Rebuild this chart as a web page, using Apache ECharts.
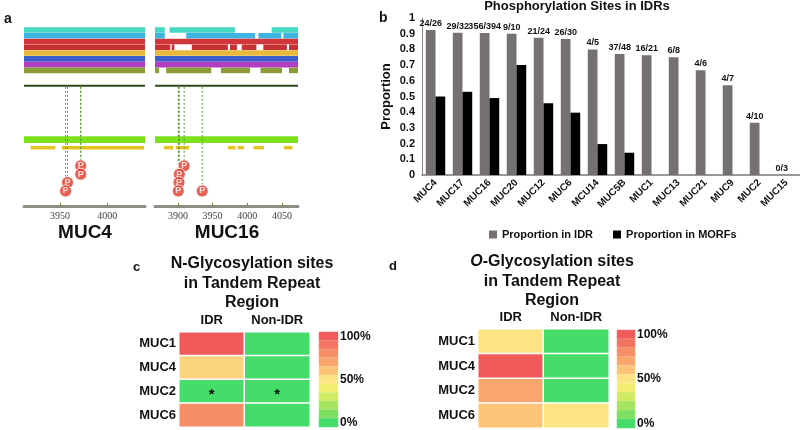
<!DOCTYPE html>
<html>
<head>
<meta charset="utf-8">
<script src="https://cdn.jsdelivr.net/npm/echarts@6/dist/echarts.min.js"></script>
<style>
html,body{margin:0;padding:0;background:#fff;}
#chart{width:800px;height:430px;}
</style>
</head>
<body>
<div id="chart"></div>
<script>
// ---- panel a : protein tracks ----
const trackColors = ['#46d8c5','#3db4e2','#d1363b','#c73034','#e8b83c','#3b5ec8','#b23dc3','#8c9c3b'];
const muc4Range = [3912, 4040];
const muc16Range = [3867, 4073];
const muc4Tracks = [
  [[3912,4040]],[[3912,4040]],[[3912,4040]],[[3912,4040]],
  [[3912,4040]],[[3912,4040]],[[3912,4040]],[[3912,4040]]
];
const muc16Tracks = [
  [[3867,3881],[3888,3982],[4035,4073]],
  [[3867,3881],[3912,4011],[4016,4049],[4052,4073]],
  [[3867,4073]],
  [[3867,3889],[3891,3895],[3920,3972],[3975,3985],[3992,4013],[4023,4057],[4060,4073]],
  [[3867,4073]],
  [[3867,4073]],
  [[3867,4073]],
  [[3867,3873],[3883,3948],[3962,4004],[4019,4050],[4060,4073]]
];
const muc4Disorder = [[3919,3945],[3952,4039]];
const muc16Disorder = [[3880,3893],[3897,3916],[3972,3983],[3986,3995],[4009,4024],[4053,4065]];
// [position, stack level]
const muc4Sites = [[3972,1],[3972,2],[3958,3],[3956,4]];
const muc16Sites = [[3909,1],[3902,2],[3901.5,3],[3900.5,4],[3935,4]];

// ---- panel b ----
const mucNames = ['MUC4','MUC17','MUC16','MUC20','MUC12','MUC6','MCU14','MUC5B','MUC1','MUC13','MUC21','MUC9','MUC2','MUC15'];
const idrProp = [0.923,0.906,0.904,0.9,0.875,0.867,0.8,0.771,0.762,0.75,0.667,0.571,0.333,0];
const morfProp = [0.5,0.53,0.49,0.7,0.457,0.397,0.197,0.142,0,0,0,0,0,0];
const siteLabels = ['24/26','29/32','356/394','9/10','21/24','26/30','4/5','37/48','16/21','6/8','4/6','4/7','4/10','0/3'];

// ---- panels c, d ----
const regions = ['IDR','Non-IDR'];
const heatMucs = ['MUC1','MUC4','MUC2','MUC6'];
const nGlycoIdr = [100, 55, 0, 80];
const nGlycoNonIdr = [0, 0, 0, 0];
const nGlycoNote = ['', '', '*', ''];
const oGlycoIdr = [50, 100, 70, 60];
const oGlycoNonIdr = [0, 0, 0, 50];
const oGlycoNote = ['', '', '', ''];
const scaleSteps = ['100','90','80','70','60','50','40','30','20','10','0'];
const scaleColors = ['#45dc69','#7ede5f','#a7e45e','#d0ea64','#f2ef70','#fde382','#fbc477','#f8a66e','#f68e68','#f37462','#f05a5a'];

const FONT = 'Liberation Sans, Arial, sans-serif';

// lanes on the panel-a y scale
const LINE_LANE = [10.0, 10.35];
const BAR_LANE = [18.9, 20.1];
const DIS_LANE = [20.6, 21.2];
const siteLane = lv => 22.6 + 1.45 * lv;

function trackItems(tracks, range, disorder) {
  const out = [];
  tracks.forEach((segs, row) => {
    segs.forEach(s => out.push({ value: [s[0], s[1], row + 0.03, row + 1], itemStyle: { color: trackColors[row] } }));
  });
  out.push({ value: [range[0], range[1], LINE_LANE[0], LINE_LANE[1]], itemStyle: { color: '#2e4a1c' } });
  out.push({ value: [range[0], range[1], BAR_LANE[0], BAR_LANE[1]], itemStyle: { color: '#7ce21c' } });
  disorder.forEach(s => out.push({ value: [s[0], s[1], DIS_LANE[0], DIS_LANE[1]], itemStyle: { color: '#e6c41e' } }));
  return out;
}

function renderRect(params, api) {
  const p0 = api.coord([api.value(0), api.value(2)]);
  const p1 = api.coord([api.value(1), api.value(3)]);
  return {
    type: 'rect',
    shape: { x: p0[0], y: Math.min(p0[1], p1[1]), width: p1[0] - p0[0], height: Math.abs(p1[1] - p0[1]) },
    style: { fill: api.visual('color') }
  };
}

function renderStem(params, api) {
  const p0 = api.coord([api.value(0), LINE_LANE[1]]);
  const p1 = api.coord([api.value(0), siteLane(api.value(1))]);
  return {
    type: 'line',
    shape: { x1: p0[0], y1: p0[1], x2: p1[0], y2: p1[1] },
    style: { stroke: '#5f9c3c', lineWidth: 1, lineDash: [2, 2] }
  };
}

function aAxis(grid, range, ticks) {
  return {
    type: 'value', gridIndex: grid, min: range[0], max: range[1],
    axisLine: { show: true, onZero: false, lineStyle: { color: '#8e8e86', width: 3 } },
    axisTick: { show: true, customValues: ticks, inside: true, length: 3, lineStyle: { color: '#6a9a40' } },
    axisLabel: { customValues: ticks, fontSize: 10, color: '#444', fontFamily: 'Liberation Serif', margin: 5, formatter: v => String(v) },
    splitLine: { show: false }
  };
}
function aYAxis(grid) {
  return { type: 'value', gridIndex: grid, min: 0, max: 31, inverse: true, show: false };
}

function heatData(idr, non, notes) {
  const out = [];
  heatMucs.forEach((m, i) => {
    [idr[i], non[i]].forEach((v, j) => {
      const item = { value: [j, i, v] };
      if (notes[i]) item.label = { show: true, formatter: notes[i] };
      out.push(item);
    });
  });
  return out;
}

const catHeatX = (grid) => ({
  type: 'category', gridIndex: grid, data: regions, position: 'top',
  axisLine: { show: false }, axisTick: { show: false },
  axisLabel: { interval: 0, fontSize: 13, fontWeight: 'bold', color: '#111', fontFamily: FONT, margin: 5 }
});
const catHeatY = (grid) => ({
  type: 'category', gridIndex: grid, data: heatMucs, inverse: true,
  axisLine: { show: false }, axisTick: { show: false },
  axisLabel: { interval: 0, fontSize: 13, fontWeight: 'bold', color: '#111', fontFamily: FONT, margin: 3 }
});
const scaleX = (grid) => ({ type: 'category', gridIndex: grid, data: [''], show: false });
const scaleY = (grid) => ({
  type: 'category', gridIndex: grid, data: scaleSteps, inverse: true, position: 'right',
  axisLine: { show: false }, axisTick: { show: false },
  axisLabel: {
    interval: 0, fontSize: 12, fontWeight: 'bold', color: '#111', fontFamily: FONT, margin: 2,
    formatter: v => (v === '100' || v === '50' || v === '0') ? v + '%' : ''
  }
});

const heatStyle = { borderColor: '#fff', borderWidth: 1.5 };
const heatLabel = { fontSize: 15, fontWeight: 'bold', color: '#111', offset: [0, 3] };
const pLabel = { show: true, position: 'inside', formatter: 'P', color: '#fff', fontSize: 9, fontWeight: 'bold' };

const chart = echarts.init(document.getElementById('chart'));
chart.setOption({
  animation: false,
  textStyle: { fontFamily: FONT },
  grid: [
    { left: 24, width: 121, top: 27, bottom: 224 },
    { left: 155, width: 143, top: 27, bottom: 224 },
    { left: 422, right: 0, top: 18, bottom: 255 },
    { left: 179, width: 131, top: 332, height: 95 },
    { left: 319, width: 19, top: 332, height: 95 },
    { left: 478, width: 131, top: 329, height: 99 },
    { left: 617, width: 18, top: 330, height: 98 }
  ],
  xAxis: [
    aAxis(0, muc4Range, [3950, 4000]),
    aAxis(1, muc16Range, [3900, 3950, 4000, 4050]),
    {
      type: 'category', gridIndex: 2, data: mucNames,
      axisLine: { lineStyle: { color: '#777', width: 1.5 } }, axisTick: { show: false },
      axisLabel: { interval: 0, rotate: 45, fontSize: 10, fontWeight: 'bold', color: '#111', margin: 6 }
    },
    catHeatX(3), scaleX(4), catHeatX(5), scaleX(6)
  ],
  yAxis: [
    aYAxis(0), aYAxis(1),
    {
      type: 'value', gridIndex: 2, min: 0, max: 1, interval: 0.1,
      name: 'Proportion', nameLocation: 'middle', nameGap: 29,
      nameTextStyle: { fontSize: 13, fontWeight: 'bold', color: '#111' },
      axisLine: { show: true, lineStyle: { color: '#888' } }, axisTick: { show: false },
      axisLabel: { fontSize: 11, fontWeight: 'bold', color: '#111', margin: 7 },
      splitLine: { show: false }
    },
    catHeatY(3), scaleY(4), catHeatY(5), scaleY(6)
  ],
  visualMap: {
    type: 'continuous', show: false, min: 0, max: 100, dimension: 2,
    seriesIndex: [8, 9, 10, 11], inRange: { color: scaleColors }
  },
  legend: {
    data: ['Proportion in IDR', 'Proportion in MORFs'],
    left: 484, top: 224, itemWidth: 8, itemHeight: 8, itemGap: 20,
    icon: 'rect',
    textStyle: { fontSize: 11, fontWeight: 'bold', color: '#111' }
  },
  series: [
    { type: 'custom', xAxisIndex: 0, yAxisIndex: 0, renderItem: renderRect, data: trackItems(muc4Tracks, muc4Range, muc4Disorder), clip: true },
    { type: 'custom', xAxisIndex: 1, yAxisIndex: 1, renderItem: renderRect, data: trackItems(muc16Tracks, muc16Range, muc16Disorder), clip: true },
    { type: 'custom', xAxisIndex: 0, yAxisIndex: 0, renderItem: renderStem, data: muc4Sites, z: 3 },
    { type: 'custom', xAxisIndex: 1, yAxisIndex: 1, renderItem: renderStem, data: muc16Sites, z: 3 },
    {
      type: 'scatter', xAxisIndex: 0, yAxisIndex: 0, z: 4,
      data: muc4Sites.map(s => [s[0], siteLane(s[1])]),
      symbolSize: 12, itemStyle: { color: '#e2392b', borderColor: '#fff', borderWidth: 1 },
      label: pLabel
    },
    {
      type: 'scatter', xAxisIndex: 1, yAxisIndex: 1, z: 4,
      data: muc16Sites.map(s => [s[0], siteLane(s[1])]),
      symbolSize: 12, itemStyle: { color: '#e2392b', borderColor: '#fff', borderWidth: 1 },
      label: pLabel
    },
    {
      name: 'Proportion in IDR', type: 'bar', xAxisIndex: 2, yAxisIndex: 2, data: idrProp,
      barGap: 0, barCategoryGap: '28%', itemStyle: { color: '#767171' },
      label: {
        show: true, position: 'top', distance: 2, fontSize: 9, fontWeight: 'bold', color: '#111',
        formatter: p => siteLabels[p.dataIndex]
      }
    },
    {
      name: 'Proportion in MORFs', type: 'bar', xAxisIndex: 2, yAxisIndex: 2, data: morfProp,
      barGap: 0, barCategoryGap: '28%', itemStyle: { color: '#000' }
    },
    { type: 'heatmap', xAxisIndex: 3, yAxisIndex: 3, data: heatData(nGlycoIdr, nGlycoNonIdr, nGlycoNote), itemStyle: heatStyle, label: heatLabel },
    { type: 'heatmap', xAxisIndex: 4, yAxisIndex: 4, data: scaleSteps.map((v, i) => [0, i, +v]), itemStyle: { borderColor: 'rgba(255,255,255,0.35)', borderWidth: 0.5 } },
    { type: 'heatmap', xAxisIndex: 5, yAxisIndex: 5, data: heatData(oGlycoIdr, oGlycoNonIdr, oGlycoNote), itemStyle: heatStyle, label: heatLabel },
    { type: 'heatmap', xAxisIndex: 6, yAxisIndex: 6, data: scaleSteps.map((v, i) => [0, i, +v]), itemStyle: { borderColor: 'rgba(255,255,255,0.35)', borderWidth: 0.5 } }
  ],
  graphic: [
    { type: 'text', x: 4, y: 12, style: { text: 'a', font: 'bold 14px ' + FONT, fill: '#111' } },
    { type: 'text', x: 379, y: 11, style: { text: 'b', font: 'bold 14px ' + FONT, fill: '#111' } },
    { type: 'text', x: 133, y: 261, style: { text: 'c', font: 'bold 13px ' + FONT, fill: '#111' } },
    { type: 'text', x: 389, y: 260, style: { text: 'd', font: 'bold 13px ' + FONT, fill: '#111' } },
    { type: 'text', x: 577, y: 0, style: { text: 'Phosphorylation Sites in IDRs', font: 'bold 13px ' + FONT, fill: '#111', textAlign: 'center' } },
    { type: 'text', x: 85, y: 223, style: { text: 'MUC4', font: 'bold 19px ' + FONT, fill: '#111', textAlign: 'center' } },
    { type: 'text', x: 227, y: 223, style: { text: 'MUC16', font: 'bold 19px ' + FONT, fill: '#111', textAlign: 'center' } },
    { type: 'text', x: 252, y: 254, style: { text: 'N-Glycosylation sites\nin Tandem Repeat\nRegion', font: 'bold 16px ' + FONT, fill: '#111', textAlign: 'center', lineHeight: 19.5 } },
    {
      type: 'text', x: 552, y: 252,
      style: {
        text: '{i|O}-Glycosylation sites\nin Tandem Repeat\nRegion', font: 'bold 16px ' + FONT, fill: '#111', textAlign: 'center', lineHeight: 19.5,
        rich: { i: { fontStyle: 'italic', fontWeight: 'bold', fontSize: 16, fontFamily: FONT, fill: '#111' } }
      }
    }
  ]
});
</script>
</body>
</html>
